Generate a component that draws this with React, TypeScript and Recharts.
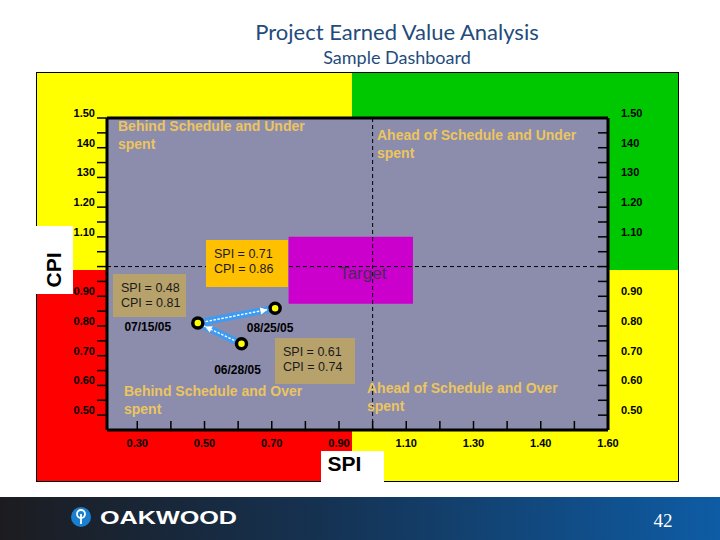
import React from "react";
import {
  ComposedChart,
  Scatter,
  XAxis,
  YAxis,
  CartesianGrid,
  ReferenceLine,
  ReferenceArea,
  Label,
} from "recharts";

// ---------------- data ----------------
const pointDates = ["06/28/05", "07/15/05", "08/25/05"];
const spiValues = [0.61, 0.48, 0.71];
const cpiValues = [0.74, 0.81, 0.86];

const xTickValues = [0.3, 0.4, 0.5, 0.6, 0.7, 0.8, 0.9, 1.0, 1.1, 1.2, 1.3, 1.4, 1.5, 1.6, 1.7];
const xLabelValues = [0.3, 0.5, 0.7, 0.9, 1.1, 1.3, 1.5, 1.7];
const xLabelTexts = ["0.30", "0.50", "0.70", "0.90", "1.10", "1.30", "1.40", "1.60"];

const yTickValues = [
  1.5, 1.45, 1.4, 1.35, 1.3, 1.25, 1.2, 1.15, 1.1, 1.05, 1.0,
  0.95, 0.9, 0.85, 0.8, 0.75, 0.7, 0.65, 0.6, 0.55, 0.5,
];
const yLabelValues = [1.5, 1.4, 1.3, 1.2, 1.1, 0.9, 0.8, 0.7, 0.6, 0.5];
const yLabelTexts = ["1.50", "140", "130", "1.20", "1.10", "0.90", "0.80", "0.70", "0.60", "0.50"];

const quadrantTitles = [
  ["Behind Schedule and Under", "spent"],
  ["Ahead of Schedule and Under", "spent"],
  ["Behind Schedule and Over", "spent"],
  ["Ahead of Schedule and Over", "spent"],
];

const chartTitle = "Project Earned Value Analysis";
const chartSubtitle = "Sample Dashboard";
const targetText = "Target";
const pageNumber = "42";

// ---------------- helpers ----------------
const FONT = "'Liberation Sans', Arial, Helvetica, sans-serif";
const points = pointDates.map((d, i) => ({ date: d, spi: spiValues[i], cpi: cpiValues[i] }));
const segments = [points.slice(0, 2), points.slice(1, 3)];

const same = (a: number, b: number) => Math.abs(a - b) < 1e-6;
const labelFor = (vals: number[], texts: string[], v: number) => {
  const i = vals.findIndex((u) => same(u, v));
  return i >= 0 ? texts[i] : null;
};

const tickTextStyle = {
  fontFamily: FONT,
  fontWeight: 700 as const,
  fontSize: 11,
  fill: "#000",
};

function BottomTick(props: any) {
  const { x, y, payload } = props;
  const label = labelFor(xLabelValues, xLabelTexts, payload.value);
  return (
    <g>
      <line x1={x} x2={x} y1={y} y2={y - 9} stroke="#000" strokeWidth={1.5} />
      {label && (
        <text x={x} y={y + 17} textAnchor="middle" {...tickTextStyle}>
          {label}
        </text>
      )}
    </g>
  );
}

function LeftTick(props: any) {
  const { x, y, payload } = props;
  const label = labelFor(yLabelValues, yLabelTexts, payload.value);
  return (
    <g>
      <line x1={x - 10} x2={x} y1={y} y2={y} stroke="#000" strokeWidth={1.5} />
      {label && (
        <text x={x - 12} y={y - 1} textAnchor="end" {...tickTextStyle}>
          {label}
        </text>
      )}
    </g>
  );
}

function RightTick(props: any) {
  const { x, y, payload } = props;
  const label = labelFor(yLabelValues, yLabelTexts, payload.value);
  return (
    <g>
      <line x1={x - 10} x2={x} y1={y} y2={y} stroke="#000" strokeWidth={1.5} />
      {label && (
        <text x={x + 13} y={y - 1} textAnchor="start" {...tickTextStyle}>
          {label}
        </text>
      )}
    </g>
  );
}

function PointShape(props: any) {
  const { cx, cy, payload } = props;
  const offsets: Record<string, [number, number]> = {
    "06/28/05": [-4, 26],
    "07/15/05": [-50, 4],
    "08/25/05": [-5, 20],
  };
  const [dx, dy] = offsets[payload.date] || [0, 20];
  return (
    <g>
      <circle cx={cx} cy={cy} r={5} fill="#FFFF00" stroke="#000" strokeWidth={3.5} />
      <text
        x={cx + dx}
        y={cy + dy + 4}
        textAnchor="middle"
        fontFamily={FONT}
        fontWeight={700}
        fontSize={12}
        fill="#000"
      >
        {payload.date}
      </text>
    </g>
  );
}

const EmptyShape = () => <g />;

export default function App() {
  const noteText = (i: number) => [
    `SPI = ${spiValues[i].toFixed(2)}`,
    `CPI = ${cpiValues[i].toFixed(2)}`,
  ];
  const notes = [
    { idx: 2, x: 206, y: 240, w: 82, h: 47, fill: "#FFC000" },
    { idx: 1, x: 113, y: 274, w: 73, h: 43, fill: "#B7A26C" },
    { idx: 0, x: 275, y: 338, w: 80, h: 46, fill: "#B7A26C" },
  ];
  const quadPos = [
    { x: 118, y: 131 },
    { x: 377, y: 140 },
    { x: 124, y: 396 },
    { x: 367, y: 393 },
  ];

  return (
    <div
      style={{
        position: "absolute",
        left: 0,
        top: 0,
        width: 720,
        height: 540,
        background: "#fff",
        overflow: "hidden",
      }}
    >
      {/* colored quadrant frame */}
      <div style={{ position: "absolute", left: 36, top: 72, width: 316, height: 198, background: "#FFFF00" }} />
      <div style={{ position: "absolute", left: 352, top: 72, width: 326, height: 198, background: "#00C800" }} />
      <div style={{ position: "absolute", left: 36, top: 270, width: 316, height: 211, background: "#FF0000" }} />
      <div style={{ position: "absolute", left: 352, top: 270, width: 326, height: 211, background: "#FFFF00" }} />
      <div
        style={{
          position: "absolute",
          left: 36,
          top: 72,
          width: 643,
          height: 410,
          border: "1px solid #000",
          boxSizing: "border-box",
        }}
      />

      <div style={{ position: "absolute", left: 0, top: 0 }}>
        <ComposedChart
          width={720}
          height={540}
          data={points}
          margin={{ top: 118, right: 0, bottom: 0, left: 0 }}
        >
          <CartesianGrid
            yAxisId="left"
            horizontal={false}
            vertical={false}
            fill="#8C8CAD"
            fillOpacity={1}
            stroke="none"
          />
          <XAxis
            type="number"
            dataKey="spi"
            domain={[0.21, 1.7]}
            ticks={xTickValues}
            interval={0}
            tickSize={0}
            tickMargin={0}
            tickLine={false}
            axisLine={{ stroke: "#000", strokeWidth: 3 }}
            tick={(p: any) => <BottomTick {...p} />}
            height={110}
            allowDataOverflow
          />
          <YAxis
            yAxisId="left"
            type="number"
            dataKey="cpi"
            domain={[0.45, 1.5]}
            ticks={yTickValues}
            interval={0}
            tickSize={0}
            tickMargin={0}
            tickLine={false}
            axisLine={{ stroke: "#000", strokeWidth: 3 }}
            tick={(p: any) => <LeftTick {...p} />}
            width={107}
            allowDataOverflow
          />
          <YAxis
            yAxisId="right"
            orientation="right"
            type="number"
            dataKey="cpi"
            domain={[0.45, 1.5]}
            ticks={yTickValues}
            interval={0}
            tickSize={0}
            tickMargin={0}
            tickLine={false}
            axisLine={{ stroke: "#000", strokeWidth: 3 }}
            tick={(p: any) => <RightTick {...p} />}
            width={112}
            allowDataOverflow
          />
          <ReferenceArea
            yAxisId="left"
            x1={0.75}
            x2={1.12}
            y1={0.875}
            y2={1.1}
            fill="#CC00CC"
            fillOpacity={1}
            stroke="none"
          >
            <Label
              value={targetText}
              position="center"
              dx={12}
              dy={3}
              fill="#4B2858"
              fontSize={17}
              fontFamily={FONT}
            />
          </ReferenceArea>
          <ReferenceLine yAxisId="left" x={1.0} stroke="#000" strokeDasharray="4 3" strokeWidth={1} />
          <ReferenceLine yAxisId="left" y={1.0} stroke="#000" strokeDasharray="4 3" strokeWidth={1} />
          <ReferenceLine yAxisId="left" y={1.5} stroke="#000" strokeWidth={3} />
          {segments.map((seg, i) => (
            <Scatter
              key={`band-${i}`}
              yAxisId="left"
              data={seg}
              line={{ stroke: "#3D9CF2", strokeWidth: 7 }}
              shape={EmptyShape}
              isAnimationActive={false}
            />
          ))}
          {segments.map((seg, i) => (
            <Scatter
              key={`dash-${i}`}
              yAxisId="left"
              data={seg}
              line={{
                stroke: "#FFFFFF",
                strokeWidth: 1.3,
                strokeDasharray: "2.5 1.5",
                markerEnd: "url(#arrowHead)",
              }}
              shape={EmptyShape}
              isAnimationActive={false}
            />
          ))}
          <Scatter yAxisId="left" data={points} shape={PointShape} isAnimationActive={false} />
        </ComposedChart>
      </div>

      {/* annotations overlay */}
      <svg
        width={720}
        height={540}
        style={{ position: "absolute", left: 0, top: 0, pointerEvents: "none" }}
      >
        <defs>
          <marker
            id="arrowHead"
            viewBox="0 0 8 8"
            markerWidth={7}
            markerHeight={7}
            refX={17}
            refY={4}
            orient="auto"
            markerUnits="userSpaceOnUse"
            overflow="visible"
          >
            <path d="M0,0 L8,4 L0,8 z" fill="#FFFFFF" />
          </marker>
          <linearGradient id="footGrad" x1="0" y1="0" x2="1" y2="0">
            <stop offset="0" stopColor="#1C1C20" />
            <stop offset="0.45" stopColor="#153252" />
            <stop offset="1" stopColor="#0E5CA5" />
          </linearGradient>
        </defs>

        {/* title */}
        <text x={397} y={40} textAnchor="middle" fontFamily="Lato, 'Open Sans', sans-serif" fontSize={22} fill="#1F4C7C">
          {chartTitle}
        </text>
        <text x={397} y={64} textAnchor="middle" fontFamily="Lato, 'Open Sans', sans-serif" fontSize={18} fill="#1F4C7C">
          {chartSubtitle}
        </text>

        {/* axis title boxes */}
        <rect x={26} y={226} width={47} height={68} fill="#FFFFFF" />
        <text
          transform="translate(61,270) rotate(-90)"
          textAnchor="middle"
          fontFamily={FONT}
          fontWeight={700}
          fontSize={21}
          fill="#000"
        >
          CPI
        </text>
        <rect x={321} y={451} width={63} height={32} fill="#FFFFFF" />
        <text x={344.5} y={471} textAnchor="middle" fontFamily={FONT} fontWeight={700} fontSize={21} fill="#000">
          SPI
        </text>

        {/* note boxes */}
        {notes.map((n, i) => {
          const [l1, l2] = noteText(n.idx);
          return (
            <g key={`note-${i}`}>
              <rect x={n.x} y={n.y} width={n.w} height={n.h} fill={n.fill} />
              <text x={n.x + 8} y={n.y + 18} fontFamily={FONT} fontSize={12.5} fill="#1A1A1A">
                {l1}
              </text>
              <text x={n.x + 8} y={n.y + 33} fontFamily={FONT} fontSize={12.5} fill="#1A1A1A">
                {l2}
              </text>
            </g>
          );
        })}

        {/* quadrant captions */}
        {quadrantTitles.map((lines, i) => (
          <g key={`quad-${i}`}>
            {lines.map((t, j) => (
              <text
                key={j}
                x={quadPos[i].x}
                y={quadPos[i].y + j * 18}
                fontFamily={FONT}
                fontWeight={700}
                fontSize={14}
                fill="#EBC55E"
              >
                {t}
              </text>
            ))}
          </g>
        ))}

        {/* footer */}
        <rect x={0} y={497} width={720} height={43} fill="url(#footGrad)" />
        <circle cx={81} cy={517} r={10} fill="#1A7FD0" />
        <circle cx={81} cy={514} r={4} fill="none" stroke="#FFFFFF" strokeWidth={1.8} />
        <line x1={81} x2={81} y1={514} y2={524} stroke="#FFFFFF" strokeWidth={1.8} />
        <text
          x={100}
          y={524}
          fontFamily={FONT}
          fontWeight={700}
          fontSize={18}
          fill="#FFFFFF"
          textLength={137}
          lengthAdjust="spacingAndGlyphs"
        >
          OAKWOOD
        </text>
        <text x={663} y={527} textAnchor="middle" fontFamily="'Liberation Serif', 'DejaVu Serif', serif" fontSize={19} fill="#FFFFFF">
          {pageNumber}
        </text>
      </svg>
    </div>
  );
}
